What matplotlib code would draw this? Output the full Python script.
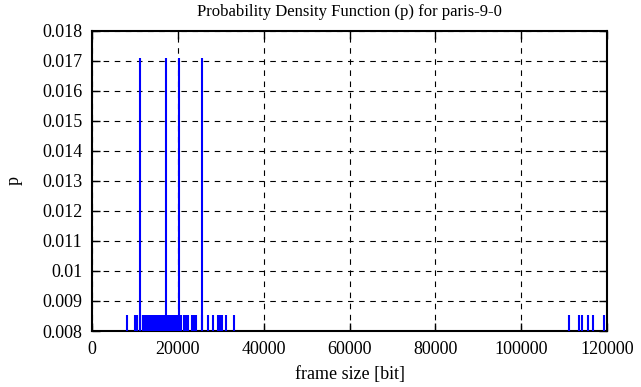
import matplotlib
matplotlib.use("Agg")
import matplotlib.pyplot as plt
import numpy as np

# frame sizes [bit] seen twice (p = 2/117)
tall_sizes = [11080, 17140, 20170, 25540]
tall_p = 2 / 117

# frame sizes [bit] seen once (p = 1/117)
short_sizes = [
    8230, 9980, 10450, 11150,
    11850, 11990, 12120, 12300, 12410, 12580, 12730, 12860, 13010, 13190,
    13320, 13480, 13650, 13770, 13920, 14100, 14230, 14390, 14560, 14690,
    14840, 15010, 15150, 15300, 15470, 15600, 15760, 15920, 16050, 16230,
    16370, 16520, 16690, 16820, 16970, 17300, 17450, 17590, 17760, 17900,
    18050, 18220, 18360, 18510, 18680, 18810, 18970, 19140, 19270, 19430,
    19580, 19730, 19890, 20030, 20320, 20460, 20620, 20800,
    21340, 21920, 22340, 23200, 23670, 24140, 25650, 27000, 28290,
    29340, 29850, 30270, 31320, 33040,
    111190, 113450, 114080, 115550, 116650, 119280,
]
short_p = 1 / 117

xticks = [0, 20000, 40000, 60000, 80000, 100000, 120000]
yticks = [0.008, 0.009, 0.01, 0.011, 0.012, 0.013, 0.014, 0.015, 0.016, 0.017, 0.018]
ytick_labels = ["0.008", "0.009", "0.01", "0.011", "0.012", "0.013",
                "0.014", "0.015", "0.016", "0.017", "0.018"]

plt.rcParams['font.family'] = ['Liberation Serif', 'DejaVu Serif']
plt.rcParams['font.size'] = 13

fig = plt.figure(figsize=(6.41, 3.87), dpi=100)
ax = fig.add_axes([0.1435, 0.1447, 0.8035, 0.7753])

ax.vlines(short_sizes, 0, short_p, color='blue', lw=1.5, zorder=3)
ax.vlines(tall_sizes, 0, tall_p, color='blue', lw=1.5, zorder=3)

ax.set_xlim(0, 120000)
ax.set_ylim(0.008, 0.018)
ax.set_xticks(xticks)
ax.set_xticklabels([str(t) for t in xticks])
ax.set_yticks(yticks)
ax.set_yticklabels(ytick_labels)

ax.grid(True, color='black', linestyle=(0, (5, 5)), lw=0.8)
ax.tick_params(direction='in', length=6, width=1, top=True, right=True, pad=7)
for s in ax.spines.values():
    s.set_linewidth(1.5)

ax.set_title('Probability Density Function (p) for paris-9-0', fontsize=12, pad=11)
ax.set_xlabel('frame size [bit]', labelpad=6)
ax.set_ylabel('p', labelpad=14)

fig.savefig('out.png', dpi=100)
